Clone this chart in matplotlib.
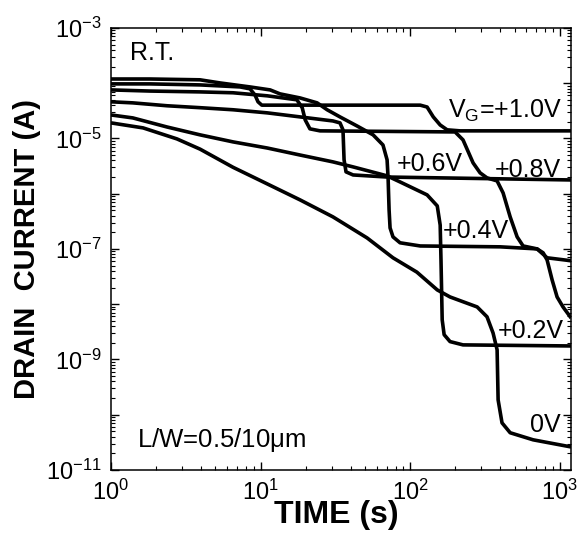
import matplotlib
matplotlib.use("Agg")
import matplotlib.pyplot as plt
from matplotlib.ticker import LogLocator, FuncFormatter, NullFormatter
import numpy as np

plt.rcParams["font.family"] = ["Liberation Sans", "DejaVu Sans"]
plt.rcParams["mathtext.fontset"] = "custom"
plt.rcParams["mathtext.rm"] = "Liberation Sans"
plt.rcParams["mathtext.it"] = "Liberation Sans:italic"
plt.rcParams["mathtext.bf"] = "Liberation Sans:bold"
plt.rcParams["mathtext.default"] = "regular"

# drain current transients, time in s, current in A
t_10 = [1, 1.82, 3.94, 7.29, 8.5, 9.19, 9.62, 10.2, 18.4, 117, 130, 143, 159, 177, 216, 1194]
i_10 = [9.7e-5, 9.7e-5, 9.3e-5, 8.55e-5, 7.9e-5, 6.1e-5, 4.6e-5, 4.0e-5, 4.0e-5, 4.0e-5,
        3.7e-5, 2.45e-5, 1.75e-5, 1.43e-5, 1.37e-5, 1.37e-5]

t_08 = [1, 1.82, 3.94, 6.55, 11.1, 17.5, 19.0, 19.9, 21.4, 25.0, 200, 226, 264, 294, 327,
        382, 419, 467, 520, 570, 707, 776, 825, 891, 962, 1054, 1194]
i_08 = [7.55e-5, 7.2e-5, 6.95e-5, 6.7e-5, 5.9e-5, 5.0e-5, 3.6e-5, 2.16e-5, 1.49e-5, 1.37e-5,
        1.31e-5, 9.4e-6, 3.6e-6, 2.38e-6, 1.93e-6, 1.7e-6, 1.03e-6, 3.8e-7, 1.65e-7, 1.13e-7,
        1.0e-7, 8.5e-8, 6.3e-8, 2.75e-8, 1.35e-8, 8.9e-9, 5.6e-9]

t_06 = [1, 1.40, 2.37, 3.94, 6.55, 11.1, 18.4, 30.5, 34.0, 35.6, 36.2, 37.3, 41.6, 70.2, 1194]
i_06 = [4.6e-5, 4.4e-5, 3.9e-5, 3.6e-5, 3.3e-5, 2.9e-5, 2.45e-5, 2.07e-5, 1.91e-5, 1.43e-5,
        4.1e-6, 2.48e-6, 2.18e-6, 2.0e-6, 1.77e-6]

t_04 = [1, 1.82, 3.94, 5.36, 8.5, 11.6, 13.5, 18.4, 23.9, 27.9, 34.0, 44.2, 56.6, 65.9, 70.2,
        71.3, 72.4, 73.5, 76.9, 85.7, 117, 400, 707, 825, 1194]
i_04 = [1.19e-4, 1.19e-4, 1.15e-4, 1.01e-4, 8.55e-5, 7.55e-5, 6.4e-5, 5.4e-5, 4.4e-5, 3.3e-5,
        2.45e-5, 1.68e-5, 1.16e-5, 7.6e-6, 4.1e-6, 1.93e-6, 5.1e-7, 2.4e-7, 1.65e-7, 1.29e-7,
        1.13e-7, 1.09e-7, 1.0e-7, 6.9e-8, 6.1e-8]

t_02 = [1, 1.40, 2.37, 3.94, 6.55, 11.1, 18.4, 30.5, 41.6, 70.2, 85.7, 130, 152, 159, 161,
        164, 169, 185, 226, 1194]
i_02 = [2.66e-5, 2.35e-5, 1.61e-5, 1.16e-5, 8.65e-6, 6.7e-6, 5.0e-6, 3.76e-6, 3.05e-6, 2.1e-6,
        1.63e-6, 9.5e-7, 6.0e-7, 2.7e-7, 6.3e-8, 5.2e-9, 2.8e-9, 2.1e-9, 1.83e-9, 1.75e-9]

t_00 = [1, 1.64, 2.76, 3.94, 6.55, 11.1, 18.4, 30.5, 51.6, 76.9, 111, 152, 185, 281, 327,
        359, 382, 388, 412, 467, 665, 1194]
i_00 = [1.91e-5, 1.55e-5, 9.8e-6, 6.4e-6, 3.0e-6, 1.5e-6, 7.7e-7, 3.8e-7, 1.58e-7, 6.9e-8,
        3.8e-8, 1.81e-8, 1.35e-8, 8.9e-9, 5.9e-9, 3.0e-9, 1.49e-9, 1.85e-10, 7.1e-11, 4.7e-11,
        3.5e-11, 2.6e-11]

curves = [(t_10, i_10), (t_08, i_08), (t_06, i_06), (t_04, i_04), (t_02, i_02), (t_00, i_00)]


def decade_label(v, pos):
    e = int(round(np.log10(v)))
    return r"$10^{%d}$" % e


def odd_decade_label(v, pos):
    e = int(round(np.log10(v)))
    if e % 2 == 0:
        return ""
    return r"$10^{%d}$" % e


fig = plt.figure(figsize=(5.81, 5.37), dpi=100)
ax = fig.add_axes([0.191, 0.125, 0.792, 0.823])

for t, i in curves:
    ax.plot(t, i, color="black", linewidth=2.6, solid_joinstyle="round", solid_capstyle="butt")

ax.set_xscale("log")
ax.set_yscale("log")
ax.set_xlim(1, 1194)
ax.set_ylim(1e-11, 1e-3)

ax.xaxis.set_major_locator(LogLocator(base=10, numticks=10))
ax.xaxis.set_minor_locator(LogLocator(base=10, subs=np.arange(2, 10), numticks=20))
ax.xaxis.set_major_formatter(FuncFormatter(decade_label))
ax.xaxis.set_minor_formatter(NullFormatter())
ax.set_yticks([10.0 ** e for e in range(-11, -2)])
ax.yaxis.set_minor_locator(LogLocator(base=10, subs=np.arange(2, 10), numticks=20))
ax.yaxis.set_major_formatter(FuncFormatter(odd_decade_label))
ax.yaxis.set_minor_formatter(NullFormatter())
ax.set_ylim(1e-11, 1e-3)

ax.tick_params(which="both", direction="in", top=True, right=True, labelsize=17, pad=7)
ax.tick_params(which="major", length=6, width=1)
ax.tick_params(which="minor", length=3, width=0.8)
for s in ax.spines.values():
    s.set_linewidth(1.1)

ax.set_xlabel("TIME (s)", fontsize=23, fontweight="bold")
ax.set_ylabel("DRAIN  CURRENT (A)", fontsize=21, fontweight="bold")
ax.xaxis.set_label_coords(0.49, -0.068)
ax.yaxis.set_label_coords(-0.152, 0.5)

ax.text(0.041, 0.943, "R.T.", transform=ax.transAxes, fontsize=18, va="center", ha="left")
ax.text(0.057, 0.068, r"L/W=0.5/10$\mu$m", transform=ax.transAxes, fontsize=18.5,
        va="center", ha="left")
ax.text(0.733, 0.796, r"V$_{G}$=+1.0V", transform=ax.transAxes, fontsize=18,
        va="baseline", ha="left")
ax.text(0.62, 0.676, "+0.6V", transform=ax.transAxes, fontsize=18, va="baseline", ha="left")
ax.text(0.835, 0.663, "+0.8V", transform=ax.transAxes, fontsize=18, va="baseline", ha="left")
ax.text(0.722, 0.525, "+0.4V", transform=ax.transAxes, fontsize=18, va="baseline", ha="left")
ax.text(0.841, 0.299, "+0.2V", transform=ax.transAxes, fontsize=18, va="baseline", ha="left")
ax.text(0.911, 0.086, "0V", transform=ax.transAxes, fontsize=18, va="baseline", ha="left")

fig.savefig("out.png", dpi=100)
